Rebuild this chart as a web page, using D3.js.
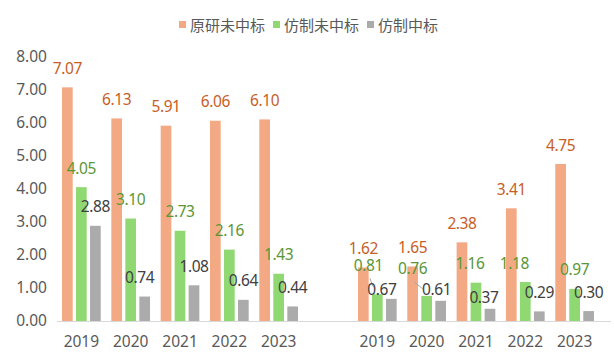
<!DOCTYPE html>
<html>
<head>
<meta charset="utf-8">
<script src="https://cdn.jsdelivr.net/npm/d3@7"></script>
<style>
  html, body { margin: 0; padding: 0; background: #fff; }
  svg { display: block; font-family: "Noto Sans", "Noto Sans CJK SC", sans-serif; }
</style>
</head>
<body>
<svg id="chart" width="614" height="355"></svg>
<script>
// ---- data ----
const categories = ["2019a","2020a","2021a","2022a","2023a","gap","2019b","2020b","2021b","2022b","2023b"];
const categoryLabels = ["2019","2020","2021","2022","2023","","2019","2020","2021","2022","2023"];
const seriesNames = ["原研未中标","仿制未中标","仿制中标"];
const originNotWon = [7.07, 6.13, 5.91, 6.06, 6.10, null, 1.62, 1.65, 2.38, 3.41, 4.75];
const genericNotWon = [4.05, 3.10, 2.73, 2.16, 1.43, null, 0.81, 0.76, 1.16, 1.18, 0.97];
const genericWon   = [2.88, 0.74, 1.08, 0.64, 0.44, null, 0.67, 0.61, 0.37, 0.29, 0.30];
const yTicks = [0,1,2,3,4,5,6,7,8];

// ---- style / layout ----
const barColors = ["#F3AA84", "#8FD872", "#ABABAB"];
const labelColors = ["#C75E26", "#5A9636", "#404040"];
// manual label nudges "series-category" => [dx, dy] (label layout only)
const nudges = {
  "1-6": [-9, -10], "2-6": [-9.5, 10],
  "1-7": [-14, -8], "2-7": [-4, 8],
  "1-8": [-6, 0],  "2-8": [-6, 8],
  "1-9": [-11, 0],
  "2-1": [-5, 0]
};
const leaders = ["1-6", "1-7"];

const svg = d3.select("#chart");
const x = d3.scaleBand().domain(categories).range([56.7, 599.3]).padding(0);
const inner = d3.scaleBand().domain(seriesNames).range([5.3, 44]).paddingInner(0.236).paddingOuter(0);
const y = d3.scaleLinear().domain([0, 8]).range([321, 56.6]);

const seriesValues = [originNotWon, genericNotWon, genericWon];

// y axis labels
svg.append("g").selectAll("text").data(yTicks).join("text")
  .attr("x", 47).attr("y", d => y(d) + 5.4)
  .attr("text-anchor", "end")
  .attr("font-size", 15.5).attr("fill", "#595959")
  .text(d => d3.format(".2f")(d));

// bars
seriesValues.forEach((vals, si) => {
  svg.append("g").selectAll("rect")
    .data(vals.map((v, i) => ({v, c: categories[i]})).filter(d => d.v != null))
    .join("rect")
    .attr("x", d => x(d.c) + inner(seriesNames[si]))
    .attr("width", inner.bandwidth())
    .attr("y", d => y(d.v))
    .attr("height", d => y(0) - y(d.v))
    .attr("fill", barColors[si]);
});

// x axis line
svg.append("line").attr("x1", 56.7).attr("x2", 611).attr("y1", 321.5).attr("y2", 321.5)
  .attr("stroke", "#D9D9D9").attr("stroke-width", 1);

// x labels
svg.append("g").selectAll("text").data(categories).join("text")
  .attr("x", d => x(d) + x.bandwidth() / 2)
  .attr("y", 346.5)
  .attr("text-anchor", "middle")
  .attr("font-size", 15.5).attr("fill", "#595959")
  .text((d, i) => categoryLabels[i]);

// data labels
seriesValues.forEach((vals, si) => {
  vals.forEach((v, ci) => {
    if (v == null) return;
    const c = categories[ci];
    const bx = x(c) + inner(seriesNames[si]);
    const cx = bx + inner.bandwidth() / 2;
    const top = y(v);
    const key = si + "-" + ci;
    const [dx, dy] = nudges[key] || [0, 0];
    const lx = cx + dx, ly = top - 19 + dy;
    if (leaders.includes(key)) {
      svg.append("line")
        .attr("x1", lx + 1.5).attr("y1", ly + 13)
        .attr("x2", bx + 1.5).attr("y2", top - 7)
        .attr("stroke", "#A6A6A6").attr("stroke-width", 1);
    }
    svg.append("text")
      .attr("x", lx).attr("y", ly + 5.5)
      .attr("text-anchor", "middle")
      .attr("font-size", 15.5)
      .attr("letter-spacing", -0.4)
      .attr("fill", labelColors[si])
      .text(d3.format(".2f")(v));
  });
});

// legend
const legendX = [179, 273, 367];
const legend = svg.append("g");
seriesNames.forEach((n, i) => {
  legend.append("rect").attr("x", legendX[i]).attr("y", 21).attr("width", 7).attr("height", 7).attr("fill", barColors[i]);
  legend.append("text").attr("x", legendX[i] + 11).attr("y", 30.5)
    .attr("font-family", "'Noto Sans CJK SC', sans-serif")
    .attr("font-size", 15).attr("fill", "#595959").text(n);
});
</script>
</body>
</html>
